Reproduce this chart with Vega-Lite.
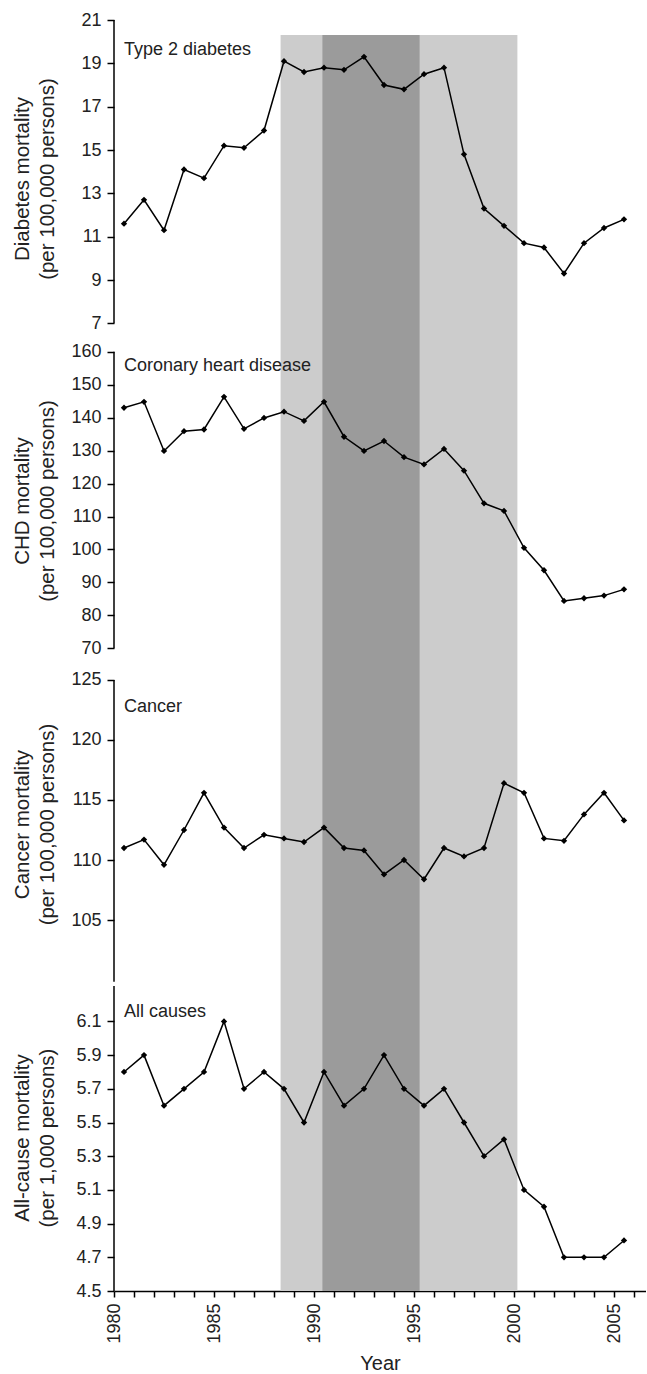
{
  "$schema": "https://vega.github.io/schema/vega-lite/v6.json",
  "padding": {"left": 12, "top": 11, "right": 0, "bottom": 2},
  "background": "white",
  "spacing": 0,
  "bounds": "flush",
  "datasets": {
    "bands": [
      {"phase": "outer", "start": 1988.33, "end": 2000.17},
      {"phase": "inner", "start": 1990.42, "end": 1995.28}
    ],
    "diabetes": [
      {"year": 1980, "t": 1980.5, "value": 11.6},
      {"year": 1981, "t": 1981.5, "value": 12.7},
      {"year": 1982, "t": 1982.5, "value": 11.3},
      {"year": 1983, "t": 1983.5, "value": 14.1},
      {"year": 1984, "t": 1984.5, "value": 13.7},
      {"year": 1985, "t": 1985.5, "value": 15.2},
      {"year": 1986, "t": 1986.5, "value": 15.1},
      {"year": 1987, "t": 1987.5, "value": 15.9},
      {"year": 1988, "t": 1988.5, "value": 19.1},
      {"year": 1989, "t": 1989.5, "value": 18.6},
      {"year": 1990, "t": 1990.5, "value": 18.8},
      {"year": 1991, "t": 1991.5, "value": 18.7},
      {"year": 1992, "t": 1992.5, "value": 19.3},
      {"year": 1993, "t": 1993.5, "value": 18.0},
      {"year": 1994, "t": 1994.5, "value": 17.8},
      {"year": 1995, "t": 1995.5, "value": 18.5},
      {"year": 1996, "t": 1996.5, "value": 18.8},
      {"year": 1997, "t": 1997.5, "value": 14.8},
      {"year": 1998, "t": 1998.5, "value": 12.3},
      {"year": 1999, "t": 1999.5, "value": 11.5},
      {"year": 2000, "t": 2000.5, "value": 10.7},
      {"year": 2001, "t": 2001.5, "value": 10.5},
      {"year": 2002, "t": 2002.5, "value": 9.3},
      {"year": 2003, "t": 2003.5, "value": 10.7},
      {"year": 2004, "t": 2004.5, "value": 11.4},
      {"year": 2005, "t": 2005.5, "value": 11.8}
    ],
    "chd": [
      {"year": 1980, "t": 1980.5, "value": 143.0},
      {"year": 1981, "t": 1981.5, "value": 144.8},
      {"year": 1982, "t": 1982.5, "value": 129.9},
      {"year": 1983, "t": 1983.5, "value": 135.9},
      {"year": 1984, "t": 1984.5, "value": 136.4},
      {"year": 1985, "t": 1985.5, "value": 146.3},
      {"year": 1986, "t": 1986.5, "value": 136.6},
      {"year": 1987, "t": 1987.5, "value": 139.9},
      {"year": 1988, "t": 1988.5, "value": 141.8},
      {"year": 1989, "t": 1989.5, "value": 139.0},
      {"year": 1990, "t": 1990.5, "value": 144.8},
      {"year": 1991, "t": 1991.5, "value": 134.2},
      {"year": 1992, "t": 1992.5, "value": 129.9},
      {"year": 1993, "t": 1993.5, "value": 132.9},
      {"year": 1994, "t": 1994.5, "value": 128.0},
      {"year": 1995, "t": 1995.5, "value": 125.8},
      {"year": 1996, "t": 1996.5, "value": 130.5},
      {"year": 1997, "t": 1997.5, "value": 123.9},
      {"year": 1998, "t": 1998.5, "value": 114.0},
      {"year": 1999, "t": 1999.5, "value": 111.7},
      {"year": 2000, "t": 2000.5, "value": 100.5},
      {"year": 2001, "t": 2001.5, "value": 93.7},
      {"year": 2002, "t": 2002.5, "value": 84.4},
      {"year": 2003, "t": 2003.5, "value": 85.2},
      {"year": 2004, "t": 2004.5, "value": 86.0},
      {"year": 2005, "t": 2005.5, "value": 87.9}
    ],
    "cancer": [
      {"year": 1980, "t": 1980.5, "value": 111.0},
      {"year": 1981, "t": 1981.5, "value": 111.7},
      {"year": 1982, "t": 1982.5, "value": 109.6},
      {"year": 1983, "t": 1983.5, "value": 112.5},
      {"year": 1984, "t": 1984.5, "value": 115.6},
      {"year": 1985, "t": 1985.5, "value": 112.7},
      {"year": 1986, "t": 1986.5, "value": 111.0},
      {"year": 1987, "t": 1987.5, "value": 112.1},
      {"year": 1988, "t": 1988.5, "value": 111.8},
      {"year": 1989, "t": 1989.5, "value": 111.5},
      {"year": 1990, "t": 1990.5, "value": 112.7},
      {"year": 1991, "t": 1991.5, "value": 111.0},
      {"year": 1992, "t": 1992.5, "value": 110.8},
      {"year": 1993, "t": 1993.5, "value": 108.8},
      {"year": 1994, "t": 1994.5, "value": 110.0},
      {"year": 1995, "t": 1995.5, "value": 108.4},
      {"year": 1996, "t": 1996.5, "value": 111.0},
      {"year": 1997, "t": 1997.5, "value": 110.3},
      {"year": 1998, "t": 1998.5, "value": 111.0},
      {"year": 1999, "t": 1999.5, "value": 116.4},
      {"year": 2000, "t": 2000.5, "value": 115.6},
      {"year": 2001, "t": 2001.5, "value": 111.8},
      {"year": 2002, "t": 2002.5, "value": 111.6},
      {"year": 2003, "t": 2003.5, "value": 113.8},
      {"year": 2004, "t": 2004.5, "value": 115.6},
      {"year": 2005, "t": 2005.5, "value": 113.3}
    ],
    "allcause": [
      {"year": 1980, "t": 1980.5, "value": 5.8},
      {"year": 1981, "t": 1981.5, "value": 5.9},
      {"year": 1982, "t": 1982.5, "value": 5.6},
      {"year": 1983, "t": 1983.5, "value": 5.7},
      {"year": 1984, "t": 1984.5, "value": 5.8},
      {"year": 1985, "t": 1985.5, "value": 6.1},
      {"year": 1986, "t": 1986.5, "value": 5.7},
      {"year": 1987, "t": 1987.5, "value": 5.8},
      {"year": 1988, "t": 1988.5, "value": 5.7},
      {"year": 1989, "t": 1989.5, "value": 5.5},
      {"year": 1990, "t": 1990.5, "value": 5.8},
      {"year": 1991, "t": 1991.5, "value": 5.6},
      {"year": 1992, "t": 1992.5, "value": 5.7},
      {"year": 1993, "t": 1993.5, "value": 5.9},
      {"year": 1994, "t": 1994.5, "value": 5.7},
      {"year": 1995, "t": 1995.5, "value": 5.6},
      {"year": 1996, "t": 1996.5, "value": 5.7},
      {"year": 1997, "t": 1997.5, "value": 5.5},
      {"year": 1998, "t": 1998.5, "value": 5.3},
      {"year": 1999, "t": 1999.5, "value": 5.4},
      {"year": 2000, "t": 2000.5, "value": 5.1},
      {"year": 2001, "t": 2001.5, "value": 5.0},
      {"year": 2002, "t": 2002.5, "value": 4.7},
      {"year": 2003, "t": 2003.5, "value": 4.7},
      {"year": 2004, "t": 2004.5, "value": 4.7},
      {"year": 2005, "t": 2005.5, "value": 4.8}
    ]
  },
  "vconcat": [
    {
      "width": 532,
      "height": 317,
      "layer": [
        {
          "data": {"name": "bands"},
          "mark": {"type": "rect"},
          "encoding": {
            "x": {"field": "start", "type": "quantitative", "scale": {"domain": [1980, 2006.6], "nice": false, "zero": false}, "axis": null},
            "x2": {"field": "end"},
            "y": {"datum": 6.37, "type": "quantitative", "scale": {"domain": [6.37, 21], "nice": false, "zero": false}},
            "y2": {"datum": 20.31},
            "color": {"field": "phase", "type": "nominal", "scale": {"domain": ["outer", "inner"], "range": ["#cccccc", "#9b9b9b"]}, "legend": null}
          }
        },
        {
          "data": {"values": [{"axis": "y"}]},
          "mark": {"type": "rule", "color": "#000000", "strokeWidth": 1.5},
          "encoding": {
            "x": {"datum": 1980, "type": "quantitative", "axis": null},
            "y": {"datum": 7, "type": "quantitative"},
            "y2": {"datum": 21}
          }
        },
        {
          "data": {"name": "diabetes"},
          "mark": {"type": "line", "color": "#000000", "strokeWidth": 1.5, "point": {"shape": "diamond", "size": 40, "filled": true, "color": "#000000", "opacity": 1}},
          "encoding": {
            "x": {"field": "t", "type": "quantitative", "axis": null},
            "y": {"field": "value", "type": "quantitative", "axis": {"title": ["Diabetes mortality", "(per 100,000 persons)"], "values": [7, 9, 11, 13, 15, 17, 19, 21], "format": "d", "tickCount": 40, "labelOverlap": false}}
          }
        },
        {
          "data": {"values": [{"label": "Type 2 diabetes"}]},
          "mark": {"type": "text", "align": "left", "baseline": "alphabetic", "fontSize": 18, "color": "#222222"},
          "encoding": {
            "x": {"datum": 1980.5, "type": "quantitative", "axis": null},
            "y": {"datum": 19.385, "type": "quantitative"},
            "text": {"field": "label"}
          }
        }
      ]
    },
    {
      "width": 532,
      "height": 327,
      "layer": [
        {
          "data": {"name": "bands"},
          "mark": {"type": "rect"},
          "encoding": {
            "x": {"field": "start", "type": "quantitative", "scale": {"domain": [1980, 2006.6], "nice": false, "zero": false}, "axis": null},
            "x2": {"field": "end"},
            "color": {"field": "phase", "type": "nominal", "scale": {"domain": ["outer", "inner"], "range": ["#cccccc", "#9b9b9b"]}, "legend": null}
          }
        },
        {
          "data": {"values": [{"axis": "y"}]},
          "mark": {"type": "rule", "color": "#000000", "strokeWidth": 1.5},
          "encoding": {
            "x": {"datum": 1980, "type": "quantitative", "axis": null},
            "y": {"datum": 70, "type": "quantitative", "scale": {"domain": [65.25, 164.46], "nice": false, "zero": false}},
            "y2": {"datum": 160}
          }
        },
        {
          "data": {"name": "chd"},
          "mark": {"type": "line", "color": "#000000", "strokeWidth": 1.5, "point": {"shape": "diamond", "size": 40, "filled": true, "color": "#000000", "opacity": 1}},
          "encoding": {
            "x": {"field": "t", "type": "quantitative", "axis": null},
            "y": {"field": "value", "type": "quantitative", "axis": {"title": ["CHD mortality", "(per 100,000 persons)"], "values": [70, 80, 90, 100, 110, 120, 130, 140, 150, 160], "format": "d", "tickCount": 40, "labelOverlap": false}}
          }
        },
        {
          "data": {"values": [{"label": "Coronary heart disease"}]},
          "mark": {"type": "text", "align": "left", "baseline": "alphabetic", "fontSize": 18, "color": "#222222"},
          "encoding": {
            "x": {"datum": 1980.5, "type": "quantitative", "axis": null},
            "y": {"datum": 154.24, "type": "quantitative"},
            "text": {"field": "label"}
          }
        }
      ]
    },
    {
      "width": 532,
      "height": 320,
      "layer": [
        {
          "data": {"name": "bands"},
          "mark": {"type": "rect"},
          "encoding": {
            "x": {"field": "start", "type": "quantitative", "scale": {"domain": [1980, 2006.6], "nice": false, "zero": false}, "axis": null},
            "x2": {"field": "end"},
            "color": {"field": "phase", "type": "nominal", "scale": {"domain": ["outer", "inner"], "range": ["#cccccc", "#9b9b9b"]}, "legend": null}
          }
        },
        {
          "data": {"values": [{"axis": "y"}]},
          "mark": {"type": "rule", "color": "#000000", "strokeWidth": 1.5},
          "encoding": {
            "x": {"datum": 1980, "type": "quantitative", "axis": null},
            "y": {"datum": 99.86, "type": "quantitative", "scale": {"domain": [99.67, 126.33], "nice": false, "zero": false}},
            "y2": {"datum": 125}
          }
        },
        {
          "data": {"name": "cancer"},
          "mark": {"type": "line", "color": "#000000", "strokeWidth": 1.5, "point": {"shape": "diamond", "size": 40, "filled": true, "color": "#000000", "opacity": 1}},
          "encoding": {
            "x": {"field": "t", "type": "quantitative", "axis": null},
            "y": {"field": "value", "type": "quantitative", "axis": {"title": ["Cancer mortality", "(per 100,000 persons)"], "values": [105, 110, 115, 120, 125], "format": "d", "tickCount": 40, "labelOverlap": false}}
          }
        },
        {
          "data": {"values": [{"label": "Cancer"}]},
          "mark": {"type": "text", "align": "left", "baseline": "alphabetic", "fontSize": 18, "color": "#222222"},
          "encoding": {
            "x": {"datum": 1980.5, "type": "quantitative", "axis": null},
            "y": {"datum": 122.36, "type": "quantitative"},
            "text": {"field": "label"}
          }
        }
      ]
    },
    {
      "width": 532,
      "height": 307,
      "layer": [
        {
          "data": {"name": "bands"},
          "mark": {"type": "rect"},
          "encoding": {
            "x": {"field": "start", "type": "quantitative", "scale": {"domain": [1980, 2006.6], "nice": false, "zero": false}},
            "x2": {"field": "end"},
            "color": {"field": "phase", "type": "nominal", "scale": {"domain": ["outer", "inner"], "range": ["#cccccc", "#9b9b9b"]}, "legend": null}
          }
        },
        {
          "data": {"values": [{"axis": "y"}]},
          "mark": {"type": "rule", "color": "#000000", "strokeWidth": 1.5},
          "encoding": {
            "x": {"datum": 1980, "type": "quantitative"},
            "y": {"datum": 4.5, "type": "quantitative", "scale": {"domain": [4.5, 6.322], "nice": false, "zero": false}},
            "y2": {"datum": 6.31}
          }
        },
        {
          "data": {"name": "allcause"},
          "mark": {"type": "line", "color": "#000000", "strokeWidth": 1.5, "point": {"shape": "diamond", "size": 40, "filled": true, "color": "#000000", "opacity": 1}},
          "encoding": {
            "x": {
              "field": "t", "type": "quantitative",
              "axis": {
                "title": "Year",
                "values": [1980, 1981, 1982, 1983, 1984, 1985, 1986, 1987, 1988, 1989, 1990, 1991, 1992, 1993, 1994, 1995, 1996, 1997, 1998, 1999, 2000, 2001, 2002, 2003, 2004, 2005, 2006],
                "labelExpr": "datum.value % 5 === 0 ? datum.label : ''",
                "format": "d",
                "tickCount": 60,
                "labelOverlap": false
              }
            },
            "y": {"field": "value", "type": "quantitative", "axis": {"title": ["All-cause mortality", "(per 1,000 persons)"], "values": [4.5, 4.7, 4.9, 5.1, 5.3, 5.5, 5.7, 5.9, 6.1], "format": ".1f", "tickCount": 40, "labelOverlap": false}}
          }
        },
        {
          "data": {"values": [{"label": "All causes"}]},
          "mark": {"type": "text", "align": "left", "baseline": "alphabetic", "fontSize": 18, "color": "#222222"},
          "encoding": {
            "x": {"datum": 1980.5, "type": "quantitative"},
            "y": {"datum": 6.126, "type": "quantitative"},
            "text": {"field": "label"}
          }
        }
      ]
    }
  ],
  "config": {
    "font": "Liberation Sans",
    "view": {"stroke": null},
    "axis": {
      "grid": false,
      "labelFont": "Liberation Sans",
      "titleFont": "Liberation Sans",
      "labelColor": "#222222",
      "titleColor": "#222222",
      "titleFontWeight": "normal",
      "domainColor": "#000000",
      "tickColor": "#000000",
      "labelFontSize": 18,
      "labelOverlap": false,
      "labelFlush": false,
      "labelBound": false
    },
    "axisY": {
      "domain": false,
      "tickSize": 7,
      "tickWidth": 1.5,
      "labelPadding": 6,
      "titleFontSize": 20.5,
      "titleLineHeight": 25,
      "titlePadding": 13,
      "minExtent": 44,
      "maxExtent": 44
    },
    "axisX": {
      "domain": true,
      "domainWidth": 1.5,
      "tickSize": 6,
      "tickWidth": 1.5,
      "labelAngle": 270,
      "labelPadding": 6,
      "titleFontSize": 20,
      "titlePadding": 10
    }
  }
}
